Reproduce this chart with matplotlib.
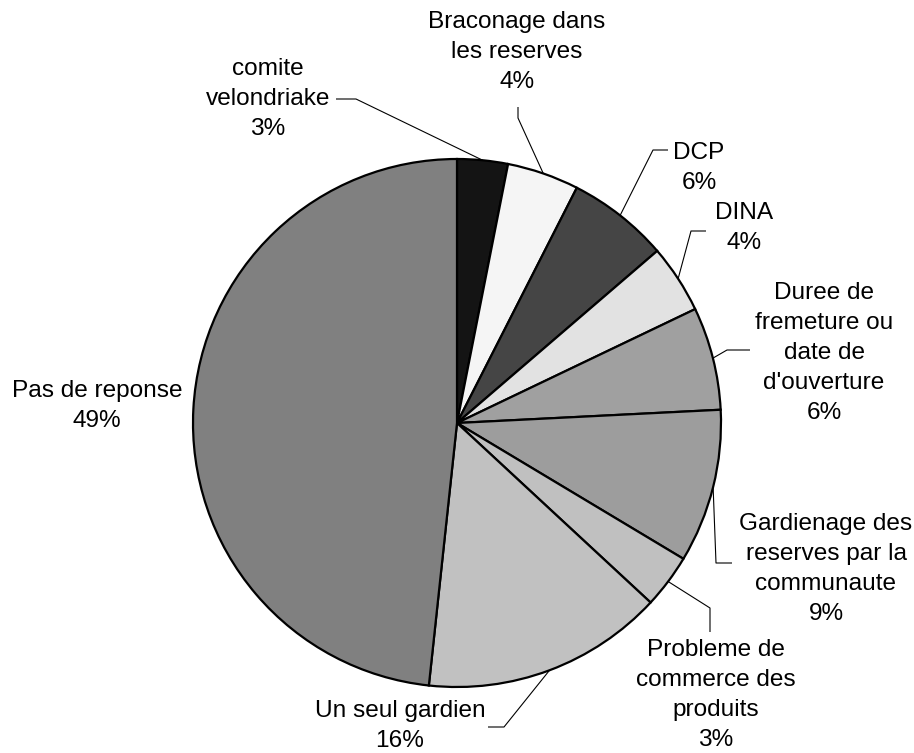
import numpy as np
import matplotlib
matplotlib.use('Agg')
import matplotlib.pyplot as plt

plt.rcParams['font.family'] = ['Liberation Sans', 'DejaVu Sans']

# Datos (parts leidas sur le dessin, en %)
categories = ['comite\nvelondriake', 'Braconage dans\nles reserves', 'DCP', 'DINA',
              "Duree de\nfremeture ou\ndate de\nd'ouverture",
              'Gardienage des\nreserves par la\ncommunaute',
              'Probleme de\ncommerce des\nproduits', 'Un seul gardien', 'Pas de reponse']
shares = [3.1, 4.4, 6.2, 4.2, 6.3, 9.4, 3.3, 14.8, 48.3]
pct_labels = ['3%', '4%', '6%', '4%', '6%', '9%', '3%', '16%', '49%']

colors = ['#141414', '#f5f5f5', '#454545', '#e2e2e2', '#a0a0a0',
          '#9d9d9d', '#c0c0c0', '#c1c1c1', '#808080']

W, H = 914, 753
CX, CY, R = 457, 423, 264

# position des etiquettes (pixels, y depuis le haut) et coudes des lignes de rappel
label_pos = [(268, 99), (517, 52), (699, 168), (744, 228), (824, 353),
             (826, 569), (716, 695), (400, 726), (97, 406)]
leader_pts = [[(336, 99), (356, 99)],
              [(518, 107), (518, 118)],
              [(668, 150), (653, 150)],
              [(706, 231), (691, 231)],
              [(750, 350), (727, 350)],
              [(732, 563), (716, 563)],
              [(710, 632), (710, 608)],
              [(488, 727), (504, 727)],
              []]


def fy(y):
	return H - y


fig = plt.figure(figsize=(W / 100, H / 100), dpi=100)
ax = fig.add_axes([0, 0, 1, 1])

wedges, _ = ax.pie(shares, colors=colors, startangle=90, counterclock=False,
                   center=(CX, fy(CY)), radius=R,
                   wedgeprops=dict(edgecolor='black', linewidth=1.6))
ax.set_xlim(0, W)
ax.set_ylim(0, H)
ax.set_aspect('equal')
ax.axis('off')

for i, w in enumerate(wedges):
	x, y = label_pos[i]
	ax.text(x, fy(y), categories[i] + '\n' + pct_labels[i], ha='center', va='center',
	        fontsize=17.6, linespacing=1.47, color='black')
	pts = leader_pts[i]
	if pts:
		ang = np.deg2rad((w.theta1 + w.theta2) / 2)
		ex = CX + R * np.cos(ang)
		ey = fy(CY) + R * np.sin(ang)
		xs = [p[0] for p in pts] + [ex]
		ys = [fy(p[1]) for p in pts] + [ey]
		ax.plot(xs, ys, color='black', lw=0.8, solid_capstyle='butt')

plt.savefig('out.png', dpi=100)
plt.close()
